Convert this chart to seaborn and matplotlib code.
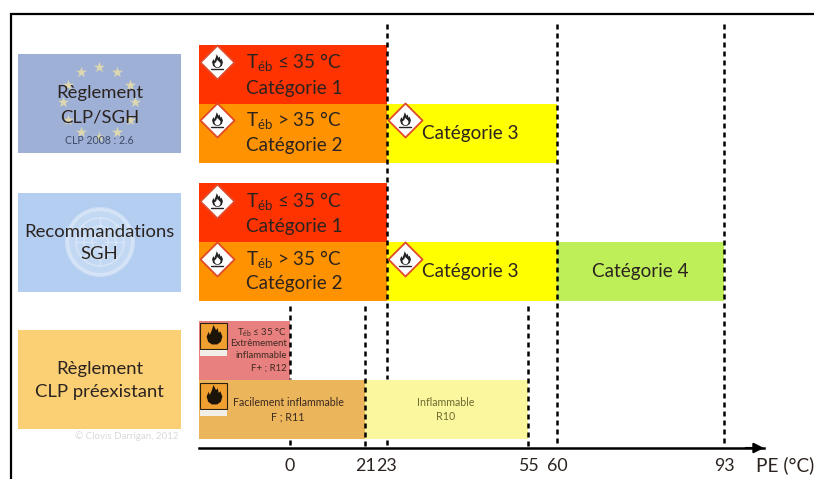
import numpy as np
import matplotlib
matplotlib.use('Agg')
import matplotlib.pyplot as plt
import seaborn as sns
from matplotlib.patches import Rectangle, Circle
from matplotlib.path import Path

# data : one entry per coloured block, PE in deg C (-25 = open left end)
seg_rows = ['clp1', 'clp2', 'clp2', 'sgh1', 'sgh2', 'sgh2', 'sgh2', 'old1', 'old2', 'old2']
seg_start = [-25, -25, 23, -25, -25, 23, 60, -25, -25, 21]
seg_end = [23, 23, 60, 23, 23, 60, 93, 0, 21, 55]
seg_kind = ['cat1', 'cat2', 'cat3', 'cat1', 'cat2', 'cat3', 'cat4', 'fplus', 'f', 'r10']

pe_ticks = [0, 21, 23, 55, 60, 93]

# styles and layout
colors = {'cat1': '#FF3300', 'cat2': '#FF9200', 'cat3': '#FFFF00', 'cat4': '#BFEF58',
          'fplus': '#E98080', 'f': '#EBB55C', 'r10': '#FBF79F'}
row_y = {'clp1': 74, 'clp2': 133, 'sgh1': 212, 'sgh2': 271, 'old1': 350, 'old2': 409}
row_h = 59
pe_knots = [-25, 0, 21, 23, 55, 60, 93, 104]
px_knots = [199, 290, 365, 386.5, 528, 557, 724, 764]


def pe_to_px(v):
    return np.interp(v, pe_knots, px_knots)


def px_to_pe(v):
    return np.interp(v, px_knots, pe_knots)


sns.set_theme(style='white')
plt.rcParams['font.family'] = ['Lato', 'DejaVu Sans']
plt.rcParams['mathtext.fontset'] = 'custom'
plt.rcParams['mathtext.rm'] = 'Lato'
ink = '#2b2320'

W, H = 814, 479
fig = plt.figure(figsize=(W / 100, H / 100), dpi=100)

#%% blocks, on a PE axis
ax = fig.add_axes([199 / W, 0, (764 - 199) / W, 1])
ax.patch.set_alpha(0)
for row, a, b, kind in zip(seg_rows, seg_start, seg_end, seg_kind):
    sns.barplot(x=[b - a], y=[row_y[row]], left=a, orient='y', native_scale=True,
                color=colors[kind], saturation=1, width=row_h, linewidth=0, edgecolor='none', ax=ax)
ax.set_xscale('function', functions=(pe_to_px, px_to_pe))
ax.set_xlim(-25, 104)
ax.set_ylim(H, 0)
ax.set_xlabel('')
ax.set_ylabel('')
ax.set_yticks([])
ax.set_xticks(pe_ticks)
ax.set_xticklabels(pe_ticks)
ax.minorticks_off()
ax.tick_params(axis='x', length=0, pad=7.5, labelsize=12.8, labelcolor=ink)
for s in ['top', 'left', 'right']:
    ax.spines[s].set_visible(False)
ax.spines['bottom'].set_position(('data', 448))
ax.spines['bottom'].set_color('black')
ax.spines['bottom'].set_linewidth(1.8)

dash = dict(color='black', ls=(0, (2.0, 1.6)), lw=1.8, zorder=5)
ax.vlines([60, 93], 24, 446, **dash)
ax.vlines([23], 24, 379, **dash)
ax.vlines([21, 55], 306, 446, **dash)
ax.vlines([0], 306, 379, **dash)
ax.vlines([0, 23], 440, 446, **dash)
ax.annotate('', xy=(104, 448), xytext=(99, 448),
            arrowprops=dict(arrowstyle='-|>', color='black', lw=1.5, mutation_scale=15,
                            shrinkA=0, shrinkB=0))

#%% everything schematic, in picture pixels
px = fig.add_axes([0, 0, 1, 1])
px.set_xlim(0, W)
px.set_ylim(H, 0)
px.axis('off')
px.patch.set_alpha(0)

# frame
px.plot([10.5, 10.5, W], [H, 13.5, 13.5], color='black', lw=1.6, solid_joinstyle='miter')

# left panels
for y0, c in zip([54, 193, 330], ['#9FB0D6', '#B3CEF0', '#FBCF74']):
    px.add_patch(Rectangle((18, y0), 163, 99, fc=c, ec='none', zorder=1))

# eu stars, un emblem
ang = np.deg2rad(np.arange(0, 360, 30))
px.scatter(99 + 36 * np.cos(ang), 102 + 35 * np.sin(ang), marker='*', s=70,
           color='#DDD8B0', linewidths=0, zorder=2)
px.add_patch(Circle((100, 242), 34, fc='white', ec='none', alpha=0.22, zorder=2))
for r, lw in [(33, 3), (24, 1.2), (16, 1.2), (8, 1.2)]:
    px.add_patch(Circle((100, 242), r, fc='none', ec='white', lw=lw, alpha=0.3, zorder=2))
a2 = np.deg2rad(np.arange(0, 360, 45))
px.plot(np.c_[100 + 4 * np.cos(a2), 100 + 24 * np.cos(a2)].T,
        np.c_[242 + 4 * np.sin(a2), 242 + 24 * np.sin(a2)].T,
        color='white', lw=1, alpha=0.3, zorder=2)

title = dict(ha='center', va='center', fontsize=13.3, color=ink, zorder=3)
px.text(99.5, 93, 'Règlement', **title)
px.text(99.5, 117, 'CLP/SGH', **title)
px.text(99.5, 140, 'CLP 2008 : 2.6', ha='center', va='center', fontsize=7.6, color='#3a4a6a', zorder=3)
px.text(99.5, 232, 'Recommandations', **title)
px.text(99.5, 254, 'SGH', **title)
px.text(99.5, 369, 'Règlement', **title)
px.text(99.5, 392, 'CLP préexistant', **title)
px.text(127, 436, '© Clovis Darrigan, 2012', ha='center', va='center', fontsize=7, color='#d9d9d9')

# flame marker
flame = Path([(-0.6, -0.6), (-0.75, -0.1), (-0.55, 0.35), (-0.45, 0.05), (-0.25, 0.5), (-0.1, 1.0),
              (0.15, 0.5), (0.3, 0.7), (0.4, 0.25), (0.55, 0.4), (0.75, -0.1), (0.6, -0.6),
              (0.25, -0.85), (-0.25, -0.85), (-0.6, -0.6)], closed=True)


def ghs(x, y):
    px.scatter([x], [y], marker='D', s=300, color='white', edgecolors='#E0492A', linewidths=1.3, zorder=6)
    px.scatter([x], [y - 1], marker=flame, s=110, color='#222222', linewidths=0, zorder=7)
    px.scatter([x], [y + 1], marker=flame, s=35, color='white', linewidths=0, zorder=8)
    px.plot([x - 6, x + 6], [y + 7, y + 7], color='#222222', lw=1, zorder=7)


def old_sign(x, y):
    px.add_patch(Rectangle((x, y), 27, 26, fc='#F0A030', ec='#2a2010', lw=0.8, zorder=6))
    px.scatter([x + 13.5], [y + 12], marker=flame, s=230, color='#1c1408', linewidths=0, zorder=7)
    px.add_patch(Rectangle((x, y + 26.5), 27, 6, fc='#f2efe8', ec='none', zorder=6))


for x, y in [(217, 62), (217, 120), (405, 120), (217, 201), (217, 259), (405, 259)]:
    ghs(x, y)
old_sign(200, 323)
old_sign(200, 383)

# block labels
big = dict(ha='center', va='center', fontsize=13.6, color=ink, zorder=6)
T_le = 'T$_{\\mathrm{éb}}$ ≤ 35 °C'
T_gt = 'T$_{\\mathrm{éb}}$ > 35 °C'
for y0, cat_y in [(63, 88), (202, 226)]:
    px.text(294, y0, T_le, **big)
    px.text(294, cat_y, 'Catégorie 1', **big)
for y0, cat_y in [(121, 146), (260, 284)]:
    px.text(294, y0, T_gt, **big)
    px.text(294, cat_y, 'Catégorie 2', **big)
px.text(470, 134, 'Catégorie 3', **big)
px.text(470, 272, 'Catégorie 3', **big)
px.text(640, 272, 'Catégorie 4', **big)

small = dict(va='center', fontsize=6.9, color='#3c2a20', zorder=6)
px.text(287, 333, 'T$_{\\mathrm{éb}}$ ≤ 35 °C', ha='right', **small)
px.text(287, 344, 'Extrêmement', ha='right', **small)
px.text(287, 356, 'inflammable', ha='right', **small)
px.text(287, 368, 'F+ ; R12', ha='right', **small)
mid = dict(ha='center', va='center', fontsize=7.7, zorder=6)
px.text(288, 403, 'Facilement inflammable', color='#3c2a20', **mid)
px.text(288, 417, 'F ; R11', color='#3c2a20', **mid)
px.text(446, 403, 'Inflammable', color='#6b6a30', **mid)
px.text(446, 417, 'R10', color='#6b6a30', **mid)

px.text(785, 465, 'PE (°C)', ha='center', va='center', fontsize=13.7, color=ink)

fig.savefig('out.png', dpi=100)
